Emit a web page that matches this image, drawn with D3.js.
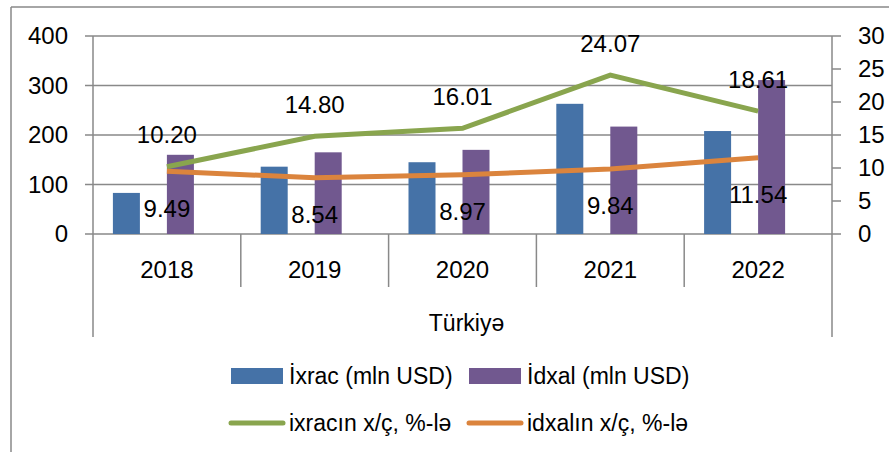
<!DOCTYPE html>
<html>
<head>
<meta charset="utf-8">
<script src="https://cdn.jsdelivr.net/npm/d3@7"></script>
<style>
  body { margin: 0; background: #fff; }
  svg { display: block; font-family: "Liberation Sans", Arial, sans-serif; }
</style>
</head>
<body>
<svg id="chart" width="889" height="452"></svg>
<script>
// data
var years = ["2018", "2019", "2020", "2021", "2022"];
var ixrac = [83, 136, 145, 263, 208];        // mln USD
var idxal = [160, 165, 170, 217, 311];       // mln USD
var ixracGrowth = [10.20, 14.80, 16.01, 24.07, 18.61];
var idxalGrowth = [9.49, 8.54, 8.97, 9.84, 11.54];
var leftTicks = [0, 100, 200, 300, 400];
var rightTicks = [0, 5, 10, 15, 20, 25, 30];
var groupLabel = "Türkiyə";
var seriesNames = ["İxrac (mln USD)", "İdxal (mln USD)", "ixracın x/ç, %-lə", "idxalın x/ç, %-lə"];

var colBlue = "#4572A7", colPurple = "#71588F", colGreen = "#89A54E", colOrange = "#DB843D";
var gridCol = "#898989";

var svg = d3.select("#chart");

var plotL = 93, plotR = 832, plotT = 36, plotB = 234;

var xScale = d3.scaleBand().domain(years).range([plotL, plotR]).padding(0);
var yLeft = d3.scaleLinear().domain([0, 400]).range([plotB, plotT]);
var yRight = d3.scaleLinear().domain([0, 30]).range([plotB, plotT]);
var barW = 27;
function cx(d) { return xScale(d) + xScale.bandwidth() / 2; }

// chart frame (partially visible)
svg.append("line").attr("x1", 11).attr("x2", 889).attr("y1", 7).attr("y2", 7)
    .style("stroke", gridCol).style("stroke-width", 1.5);
svg.append("line").attr("x1", 11).attr("x2", 11).attr("y1", 7).attr("y2", 452)
    .style("stroke", gridCol).style("stroke-width", 1.5);

// gridlines
svg.selectAll("line.grid")
    .data(leftTicks)
    .enter()
    .append("line")
    .attr("class", "grid")
    .attr("x1", plotL - 8)
    .attr("x2", plotR)
    .attr("y1", function(d) { return yLeft(d); })
    .attr("y2", function(d) { return yLeft(d); })
    .style("stroke", gridCol)
    .style("stroke-width", 1.5);

// left axis labels
svg.selectAll("text.yl")
    .data(leftTicks)
    .enter()
    .append("text")
    .attr("class", "yl")
    .attr("x", 68)
    .attr("y", function(d) { return yLeft(d); })
    .attr("dy", "0.35em")
    .attr("text-anchor", "end")
    .attr("font-size", "24px")
    .text(function(d) { return d; });

// right axis line + ticks + labels
svg.append("line").attr("x1", plotR).attr("x2", plotR).attr("y1", plotT).attr("y2", 337)
    .style("stroke", gridCol).style("stroke-width", 1.5);
svg.selectAll("line.rt")
    .data(rightTicks)
    .enter()
    .append("line")
    .attr("class", "rt")
    .attr("x1", plotR)
    .attr("x2", plotR + 9)
    .attr("y1", function(d) { return yRight(d); })
    .attr("y2", function(d) { return yRight(d); })
    .style("stroke", gridCol)
    .style("stroke-width", 1.5);
svg.selectAll("text.yr")
    .data(rightTicks)
    .enter()
    .append("text")
    .attr("class", "yr")
    .attr("x", 858)
    .attr("y", function(d) { return yRight(d); })
    .attr("dy", "0.35em")
    .attr("font-size", "24px")
    .text(function(d) { return d; });

// left axis line and category separators
svg.append("line").attr("x1", plotL).attr("x2", plotL).attr("y1", plotT).attr("y2", 337)
    .style("stroke", gridCol).style("stroke-width", 1.5);
svg.selectAll("line.sep")
    .data(years.slice(1))
    .enter()
    .append("line")
    .attr("class", "sep")
    .attr("x1", function(d) { return xScale(d); })
    .attr("x2", function(d) { return xScale(d); })
    .attr("y1", plotB)
    .attr("y2", 287)
    .style("stroke", gridCol)
    .style("stroke-width", 1.5);

// bars
svg.selectAll("rect.ix")
    .data(ixrac)
    .enter()
    .append("rect")
    .attr("class", "ix")
    .attr("x", function(d, i) { return cx(years[i]) - 2 * barW; })
    .attr("y", function(d) { return yLeft(d); })
    .attr("width", barW)
    .attr("height", function(d) { return plotB - yLeft(d); })
    .attr("fill", colBlue);
svg.selectAll("rect.id")
    .data(idxal)
    .enter()
    .append("rect")
    .attr("class", "id")
    .attr("x", function(d, i) { return cx(years[i]); })
    .attr("y", function(d) { return yLeft(d); })
    .attr("width", barW)
    .attr("height", function(d) { return plotB - yLeft(d); })
    .attr("fill", colPurple);

// lines
var line = d3.line()
    .x(function(d, i) { return cx(years[i]); })
    .y(function(d) { return yRight(d); });
svg.append("path").datum(ixracGrowth).attr("d", line)
    .attr("fill", "none").style("stroke", colGreen).style("stroke-width", 5);
svg.append("path").datum(idxalGrowth).attr("d", line)
    .attr("fill", "none").style("stroke", colOrange).style("stroke-width", 5);

// data labels
svg.selectAll("text.gl")
    .data(ixracGrowth)
    .enter()
    .append("text")
    .attr("class", "gl")
    .attr("x", function(d, i) { return cx(years[i]); })
    .attr("y", function(d) { return yRight(d) - 32; })
    .attr("dy", "0.35em")
    .attr("text-anchor", "middle")
    .attr("font-size", "24px")
    .text(function(d) { return d.toFixed(2); });
svg.selectAll("text.ol")
    .data(idxalGrowth)
    .enter()
    .append("text")
    .attr("class", "ol")
    .attr("x", function(d, i) { return cx(years[i]); })
    .attr("y", function(d) { return yRight(d) + 37; })
    .attr("dy", "0.35em")
    .attr("text-anchor", "middle")
    .attr("font-size", "24px")
    .text(function(d) { return d.toFixed(2); });

// category labels
svg.selectAll("text.cat")
    .data(years)
    .enter()
    .append("text")
    .attr("class", "cat")
    .attr("x", function(d) { return cx(d); })
    .attr("y", 270)
    .attr("dy", "0.35em")
    .attr("text-anchor", "middle")
    .attr("font-size", "24px")
    .text(function(d) { return d; });
svg.append("text")
    .attr("x", (plotL + plotR) / 2 + 4)
    .attr("y", 323)
    .attr("dy", "0.35em")
    .attr("text-anchor", "middle")
    .attr("font-size", "23px")
    .text(groupLabel);

// legend
var legend = [
    {name: seriesNames[0], color: colBlue, type: "rect", x: 231, y: 376},
    {name: seriesNames[1], color: colPurple, type: "rect", x: 469, y: 376},
    {name: seriesNames[2], color: colGreen, type: "line", x: 231, y: 423},
    {name: seriesNames[3], color: colOrange, type: "line", x: 469, y: 423}
];
var lg = svg.selectAll("g.leg")
    .data(legend)
    .enter()
    .append("g")
    .attr("class", "leg")
    .attr("transform", function(d) { return "translate(" + d.x + "," + d.y + ")"; });
lg.filter(function(d) { return d.type == "rect"; })
    .append("rect")
    .attr("x", 0).attr("y", -8).attr("width", 52).attr("height", 16)
    .attr("fill", function(d) { return d.color; });
lg.filter(function(d) { return d.type == "line"; })
    .append("line")
    .attr("x1", 0).attr("x2", 52).attr("y1", 0).attr("y2", 0)
    .style("stroke", function(d) { return d.color; })
    .style("stroke-width", 5)
    .style("stroke-linecap", "round");
lg.append("text")
    .attr("x", 58)
    .attr("y", 0)
    .attr("dy", "0.35em")
    .attr("font-size", "23px")
    .text(function(d) { return d.name; });
</script>
</body>
</html>
